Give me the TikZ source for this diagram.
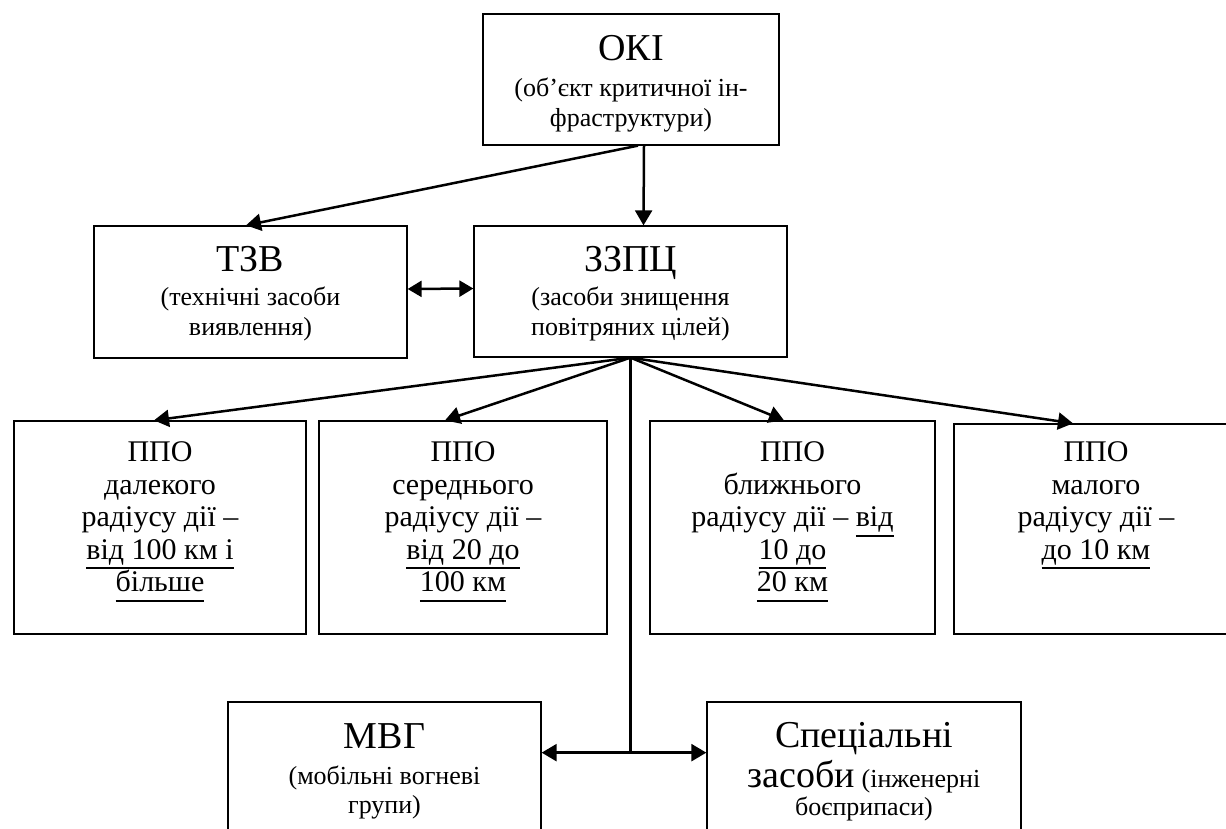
\documentclass[tikz,border=0pt]{standalone}
\usepackage{fontspec}
\setmainfont{Liberation Serif}
\usetikzlibrary{arrows.meta}
\newsavebox\ulbox
\newcommand{\myul}[1]{\sbox\ulbox{#1}\rlap{\rule[-5pt]{\wd\ulbox}{0.9pt}}\usebox\ulbox}
\newcommand{\ttl}{\fontsize{19}{19}\selectfont}
\begin{document}
\setlength{\lineskiplimit}{-50pt}
\begin{tikzpicture}[x=0.5pt,y=-0.5pt,
  box/.style={draw, line width=0.65pt, inner sep=0pt},
  txt/.style={align=center, inner sep=0pt, anchor=north},
  subf/.style={font=\fontsize{13}{15}\selectfont},
  ppof/.style={font=\fontsize{15}{16.2}\selectfont},
  mvgf/.style={font=\fontsize{13}{14.5}\selectfont},
  specf/.style={font=\fontsize{13}{13.8}\selectfont},
  ln/.style={line width=1.25pt},
  arr/.style={ln, -{Triangle[length=7.5pt,width=8.5pt]}},
  darr/.style={ln, {Triangle[length=7pt,width=8pt]}-{Triangle[length=7pt,width=8pt]}}]
\useasboundingbox (0,0) rectangle (1226,829);
\fill[white] (0,0) rectangle (1226,829);
% boxes
\node[box, minimum width=148pt, minimum height=65.5pt] (oki) at (631,79.5) {};
\node[box, minimum width=156.5pt, minimum height=66pt] (tzv) at (250.5,292) {};
\node[box, minimum width=156.5pt, minimum height=65.5pt] (zzpc) at (630.5,291.5) {};
\node[box, minimum width=146pt, minimum height=106.5pt] (p1) at (160,527.5) {};
\node[box, minimum width=144pt, minimum height=106.5pt] (p2) at (463,527.5) {};
\node[box, minimum width=142.5pt, minimum height=106.5pt] (p3) at (792.5,527.5) {};
\node[box, minimum width=142pt, minimum height=105pt] (p4) at (1096,529) {};
\node[box, minimum width=156.5pt, minimum height=71pt] (mvg) at (384.5,773) {};
\node[box, minimum width=157pt, minimum height=73pt] (spec) at (864,775) {};
% texts
\node[txt, subf] (okit) at (631,35.3) {{\ttl ОКІ}\\[3pt](об’єкт критичної ін-\\фраструктури)};
\node[txt, subf] (tzvt) at (250.5,245.5) {{\ttl ТЗВ}\\[2pt](технічні засоби\\виявлення)};
\node[txt, subf] (zzpct) at (630.5,246) {{\ttl ЗЗПЦ}\\[2pt](засоби знищення\\повітряних цілей)};
\node[txt, ppof] (p1t) at (160,441.7) {ППО\\далекого\\радіусу дії –\\\myul{від 100 км і}\\\myul{більше}};
\node[txt, ppof] (p2t) at (463,441.7) {ППО\\середнього\\радіусу дії –\\\myul{від 20 до}\\\myul{100 км}};
\node[txt, ppof] (p3t) at (792.5,441.7) {ППО\\ближнього\\радіусу дії – \myul{від}\\\myul{10 до}\\\myul{20 км}};
\node[txt, ppof] (p4t) at (1096,441.7) {ППО\\малого\\радіусу дії –\\\myul{до 10 км}};
\node[txt, mvgf] (mvgt) at (384.5,723) {{\ttl МВГ}\\[3.5pt](мобільні вогневі\\групи)};
\node[txt, specf] (spect) at (864,722) {{\ttl Спеціальні}\\[6.2pt]{\ttl засоби} (інженерні\\боєприпаси)};
% connectors
\coordinate (hub) at ([yshift=-197.5pt]zzpc.south);
\draw[arr] ([xshift=6.5pt]oki.south) -- ([xshift=6.5pt]zzpc.north);
\draw[arr] ([xshift=3.5pt]oki.south) -- ([xshift=-2.25pt]tzv.north);
\draw[darr] ([yshift=1.5pt]tzv.east) -- ([yshift=1.5pt]zzpc.west);
\draw[arr] (zzpc.south) -- ([xshift=-3pt]p1.north);
\draw[arr] (zzpc.south) -- ([xshift=-9pt]p2.north);
\draw[arr] (zzpc.south) -- ([xshift=-4.25pt]p3.north);
\draw[arr] (zzpc.south) -- ([xshift=-11.5pt]p4.north);
\draw[ln] (zzpc.south) -- (hub);
\draw[arr] (hub) -- (hub -| mvg.east);
\draw[arr] (hub) -- (hub -| spec.west);
\end{tikzpicture}
\end{document}
